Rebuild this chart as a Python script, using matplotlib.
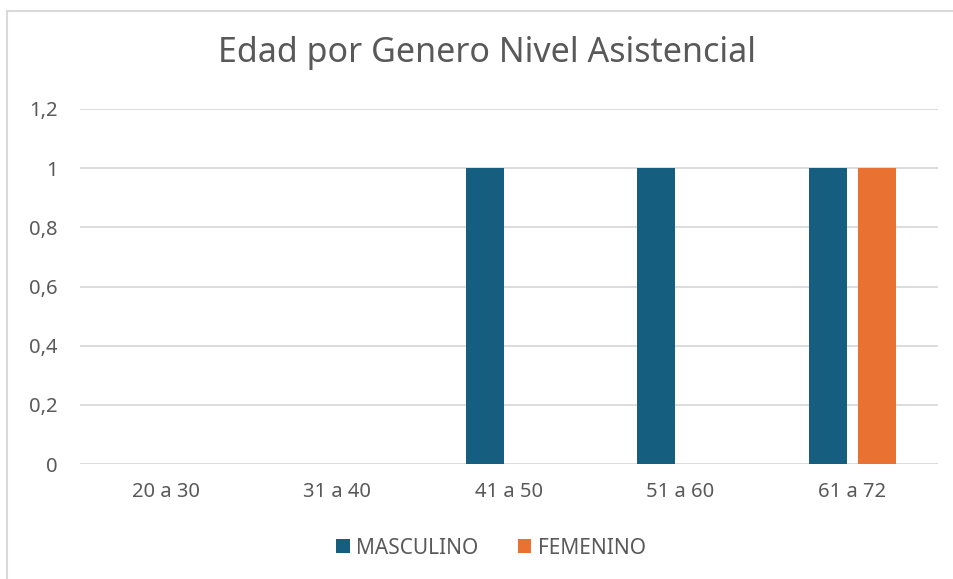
import matplotlib.pyplot as plt
import numpy as np
from matplotlib.ticker import FuncFormatter

plt.rcParams['font.family'] = ['Noto Sans', 'DejaVu Sans']

categories = ['20 a 30', '31 a 40', '41 a 50', '51 a 60', '61 a 72']
masculino = [0, 0, 1, 1, 1]
femenino = [0, 0, 0, 0, 1]

blue = '#165E80'
orange = '#E97132'
text_gray = '#595959'
grid_gray = '#D9D9D9'

fig = plt.figure(figsize=(9.54, 5.79), dpi=100)
ax = fig.add_axes([80 / 954, 1 - 464 / 579, 858 / 954, 355 / 579])

x = np.arange(len(categories))
w = 0.222
off = 0.142
ax.bar(x - off, masculino, w, color=blue, label='MASCULINO', zorder=3)
ax.bar(x + off, femenino, w, color=orange, label='FEMENINO', zorder=3)

ax.set_xlim(-0.5, len(categories) - 0.5)
ax.set_ylim(0, 1.2)
ax.set_yticks(np.arange(0, 1.21, 0.2))
ax.yaxis.set_major_formatter(FuncFormatter(lambda v, p: f'{v:g}'.replace('.', ',')))
ax.set_xticks(x)
ax.set_xticklabels(categories)
ax.tick_params(axis='y', length=0, pad=16, labelsize=14.5, labelcolor=text_gray)
ax.tick_params(axis='x', length=0, pad=13, labelsize=14.5, labelcolor=text_gray)
ax.grid(axis='y', color=grid_gray, linewidth=1.3, zorder=0)
for s in ax.spines.values():
    s.set_visible(False)

fig.text(487 / 954, 1 - 53 / 579, 'Edad por Genero Nivel Asistencial', ha='center', va='center',
         fontsize=24.5, color=text_gray)

leg = fig.legend(loc='center', bbox_to_anchor=(491 / 954, 1 - 548 / 579), ncol=2, frameon=False,
                 fontsize=15, handlelength=0.65, handleheight=0.65, handletextpad=0.3, columnspacing=1.9)
for t in leg.get_texts():
    t.set_color(text_gray)

# chart border (top and left edges visible)
fig.add_artist(plt.Line2D([7 / 954, 7 / 954], [0, 1 - 11 / 579], color=grid_gray, linewidth=1.5))
fig.add_artist(plt.Line2D([7 / 954, 1], [1 - 11 / 579, 1 - 11 / 579], color=grid_gray, linewidth=1.5))

fig.savefig('out.png', dpi=100)
